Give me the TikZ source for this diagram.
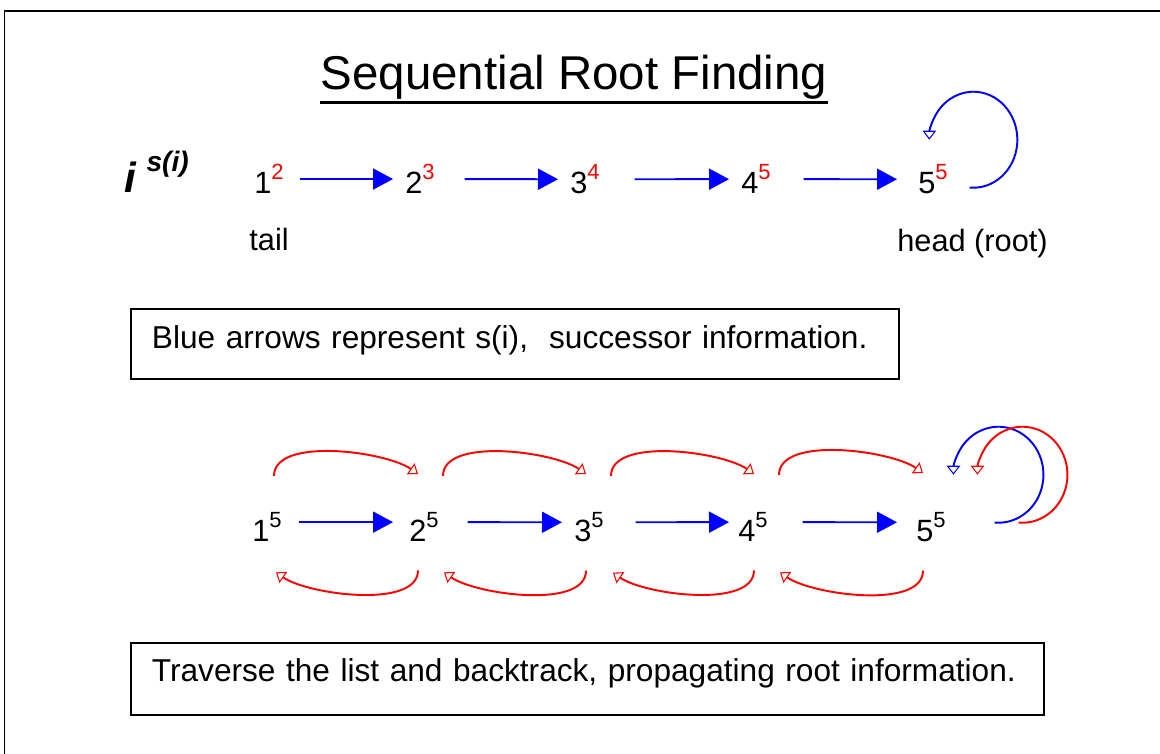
\documentclass[tikz,border=0pt]{standalone}
\usepackage{fontspec}
\setmainfont{Liberation Sans}
\usetikzlibrary{arrows.meta,positioning}

\newcommand{\rootval}[3][black]{#2\raisebox{8.3pt}{\fontsize{12.5}{13}\selectfont\color{#1}#3}}

\begin{document}
\begin{tikzpicture}[
  num/.style={anchor=base west, inner sep=0, font=\fontsize{17.5}{20}\selectfont},
  lbl/.style={inner sep=0, font=\fontsize{17.5}{20}\selectfont},
  note/.style={draw, line width=1.1pt, anchor=north west, inner xsep=0.42cm, inner ysep=0, align=left, font=\fontsize{18}{21}\selectfont},
  succ/.style={draw=blue, line width=1.1pt, -{Triangle[length=0.4cm, width=0.42cm]}},
  opentip/.style={-{Triangle[open, length=0.18cm, width=0.27cm, line width=0.6pt]}},
  back/.style={draw=red, line width=1.1pt, opentip},
  selfloop/.style={line width=1.1pt, opentip}
]
\useasboundingbox (0,0) rectangle (23.2,-15.08);

% frame and title
\draw[line width=1.1pt] (0.09,-16) -- (0.09,-0.22) -- (24,-0.22);
\node[anchor=base, inner sep=0, font=\fontsize{27}{32}\selectfont] (title) at (11.48,-1.8) {Sequential Root Finding};
\draw[line width=1.6pt] ([yshift=-1.2pt]title.south west) -- ([yshift=-1.2pt]title.south east);

% successor list
\node[anchor=base west, inner sep=0, font=\fontsize{24}{28}\selectfont\bfseries\itshape] (sidx) at (2.48,-3.86) {i\hspace{6pt}\raisebox{12.5pt}{\fontsize{16}{18}\selectfont s(i)}};
\node[num] (t1) at (5.08,-3.88) {\rootval[red]{1}{2}};
\node[num] (t2) at (8.10,-3.88) {\rootval[red]{2}{3}};
\node[num] (t3) at (11.40,-3.88) {\rootval[red]{3}{4}};
\node[num] (t4) at (14.82,-3.88) {\rootval[red]{4}{5}};
\node[num] (t5) at (18.36,-3.88) {\rootval[red]{5}{5}};
\node[lbl, below=0.68cm of t1] (tail) {tail};
\node[lbl, below=0.68cm of t5, xshift=0.79cm] (head) {head (root)};

\draw[succ, shorten <=0.31cm, shorten >=0.24cm] (t1) -- (t2);
\draw[succ, shorten <=0.59cm, shorten >=0.24cm] (t2) -- (t3);
\draw[succ, shorten <=0.69cm, shorten >=0.24cm] (t3) -- (t4);
\draw[succ, shorten <=0.65cm, shorten >=0.42cm] (t4) -- (t5);
\draw[selfloop, blue] ([shift={(0.43,-0.165)}]t5.east) arc[start angle=-95, end angle=180, x radius=0.88cm, y radius=0.96cm];

\node[note, text width=14.52cm, text height=0.786cm, text depth=0.614cm] (note1) at (2.6,-6.16) {Blue arrows represent s(i),\ \ successor information.};

% traversal and backtrack
\node[num] (b1) at (5.04,-10.84) {\rootval{1}{5}};
\node[num] (b2) at (8.18,-10.84) {\rootval{2}{5}};
\node[num] (b3) at (11.48,-10.84) {\rootval{3}{5}};
\node[num] (b4) at (14.76,-10.84) {\rootval{4}{5}};
\node[num] (b5) at (18.32,-10.84) {\rootval{5}{5}};

\draw[succ, shorten <=0.33cm, shorten >=0.32cm] ([yshift=1mm]b1.east) -- ([yshift=1mm]b2.west);
\draw[succ, shorten <=0.57cm, shorten >=0.24cm] ([yshift=1mm]b2.east) -- ([yshift=1mm]b3.west);
\draw[succ, shorten <=0.63cm, shorten >=0.18cm] ([yshift=1mm]b3.east) -- ([yshift=1mm]b4.west);
\draw[succ, shorten <=0.69cm, shorten >=0.38cm] ([yshift=1mm]b4.east) -- ([yshift=1mm]b5.west);

\draw[back] ([shift={(0.14,0.72)}]b1.north) to[out=90, in=145, looseness=0.7] ([shift={(-0.12,0.76)}]b2.north);
\draw[back] ([shift={(0.38,0.72)}]b2.north) to[out=90, in=145, looseness=0.7] ([shift={(-0.06,0.76)}]b3.north);
\draw[back] ([shift={(0.44,0.72)}]b3.north) to[out=90, in=145, looseness=0.7] ([shift={(0.02,0.76)}]b4.north);
\draw[back] ([shift={(0.52,0.74)}]b4.north) to[out=90, in=145, looseness=0.7] ([shift={(-0.16,0.78)}]b5.north);

\draw[back] ([shift={(-0.12,-0.56)}]b2.south) to[out=-90, in=-35, looseness=0.7] ([shift={(0.18,-0.60)}]b1.south);
\draw[back] ([shift={(-0.06,-0.56)}]b3.south) to[out=-90, in=-35, looseness=0.7] ([shift={(0.40,-0.60)}]b2.south);
\draw[back] ([shift={(0.02,-0.56)}]b4.south) to[out=-90, in=-35, looseness=0.7] ([shift={(0.48,-0.60)}]b3.south);
\draw[back] ([shift={(-0.16,-0.56)}]b5.south) to[out=-90, in=-35, looseness=0.7] ([shift={(0.54,-0.60)}]b4.south);

\draw[selfloop, blue] ([shift={(0.97,0.095)}]b5.east) arc[start angle=-95, end angle=180, x radius=0.9cm, y radius=0.96cm];
\draw[selfloop, red] ([shift={(1.45,0.095)}]b5.east) arc[start angle=-95, end angle=180, x radius=0.9cm, y radius=0.96cm];

\node[note, text width=17.42cm, text height=0.78cm, text depth=0.66cm] (note2) at (2.6,-12.84) {Traverse the list and backtrack, propagating root information.};

\end{tikzpicture}
\end{document}
